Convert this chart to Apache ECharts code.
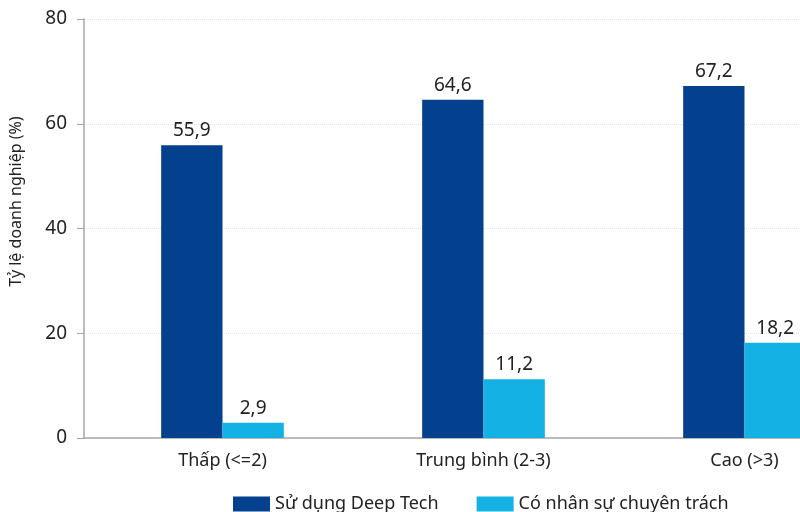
<!DOCTYPE html>
<html>
<head>
<meta charset="utf-8">
<script src="https://cdn.jsdelivr.net/npm/echarts@6/dist/echarts.min.js"></script>
<style>
  html, body { margin: 0; padding: 0; background: #fff; }
  #chart { width: 800px; height: 512px; }
</style>
</head>
<body>
<div id="chart"></div>
<script>
// Technology level groups
const categories = ['Thấp (<=2)', 'Trung bình (2-3)', 'Cao (>3)'];
// Share of enterprises (%)
const deepTech = [55.9, 64.6, 67.2];
const dedicatedStaff = [2.9, 11.2, 18.2];
const yTicks = { min: 0, max: 80, interval: 20 };
const yTitle = 'Tỷ lệ doanh nghiệp (%)';

const FONT = '"Noto Sans", sans-serif';
const TEXT = '#222';
const AXIS = '#a6a6a6';
const fmt = p => String(p.value).replace('.', ',');

const chart = echarts.init(document.getElementById('chart'), null, { renderer: 'canvas' });
chart.setOption({
  animation: false,
  textStyle: { fontFamily: FONT },
  // grid 0 carries the frame (axis lines, ticks, gridlines); grid 1 carries the bars,
  // widened past the right edge so the last group runs off the canvas
  grid: [
    { left: 84, right: 0, top: 19, bottom: 74, outerBoundsMode: 'none' },
    { left: 92, width: 783, top: 19, bottom: 74, outerBoundsMode: 'none' }
  ],
  legend: {
    top: 495,
    left: 233,
    padding: 0,
    itemWidth: 37,
    itemHeight: 15,
    itemGap: 38,
    icon: 'rect',
    textStyle: { fontSize: 18, color: TEXT, fontFamily: FONT },
    data: ['Sử dụng Deep Tech', 'Có nhân sự chuyên trách']
  },
  xAxis: [
    {
      gridIndex: 0,
      type: 'category',
      data: categories,
      axisLine: { lineStyle: { color: AXIS, width: 1.5 } },
      axisTick: { show: false },
      axisLabel: { show: false }
    },
    {
      gridIndex: 1,
      type: 'category',
      data: categories,
      axisLine: { show: false },
      axisTick: { show: false },
      axisLabel: { fontSize: 18, color: TEXT, margin: 14, fontFamily: FONT }
    }
  ],
  yAxis: [
    {
      gridIndex: 0,
      type: 'value',
      min: yTicks.min,
      max: yTicks.max,
      interval: yTicks.interval,
      name: yTitle,
      nameLocation: 'middle',
      nameGap: 60,
      nameTextStyle: { fontSize: 16, color: TEXT, fontFamily: FONT, padding: [0, 0, 0, 54] },
      axisLine: { show: true, lineStyle: { color: AXIS, width: 1.5 } },
      axisTick: { show: true, length: 7, lineStyle: { color: AXIS } },
      axisLabel: { fontSize: 19, color: TEXT, margin: 17, fontFamily: FONT },
      splitLine: { show: true, lineStyle: { color: '#e4e4e4', type: 'dotted' } }
    },
    {
      gridIndex: 1,
      type: 'value',
      min: yTicks.min,
      max: yTicks.max,
      interval: yTicks.interval,
      show: false,
      splitLine: { show: false }
    }
  ],
  series: [
    {
      name: 'Sử dụng Deep Tech',
      type: 'bar',
      xAxisIndex: 1,
      yAxisIndex: 1,
      data: deepTech,
      barGap: '0%',
      barCategoryGap: '53%',
      itemStyle: { color: '#03418e' },
      label: { show: true, position: 'top', distance: 5, fontSize: 19, color: TEXT, formatter: fmt }
    },
    {
      name: 'Có nhân sự chuyên trách',
      type: 'bar',
      xAxisIndex: 1,
      yAxisIndex: 1,
      data: dedicatedStaff,
      itemStyle: { color: '#14b1e4' },
      label: { show: true, position: 'top', distance: 5, fontSize: 19, color: TEXT, formatter: fmt }
    }
  ]
});
</script>
</body>
</html>
